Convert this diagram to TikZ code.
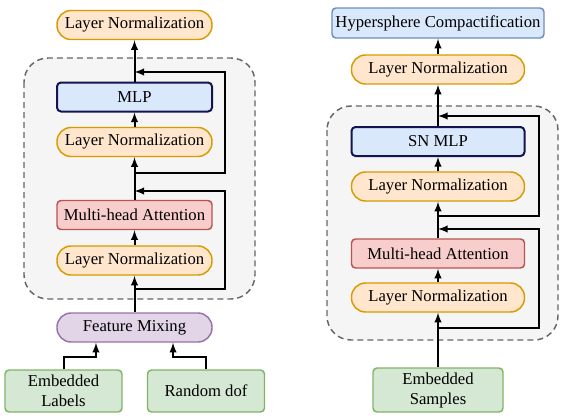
\documentclass[tikz,border=0pt]{standalone}
\usepackage{fontspec}
\setmainfont{Liberation Serif}
\usepackage{tikz}
\usetikzlibrary{calc}
\usetikzlibrary{arrows}
\definecolor{lnfill}{HTML}{FFE6CC}
\definecolor{lndraw}{HTML}{D79B00}
\definecolor{bluefill}{HTML}{DAE8FC}
\definecolor{bluedraw}{HTML}{6C8EBF}
\definecolor{mlpdraw}{HTML}{141452}
\definecolor{redfill}{HTML}{F8CECC}
\definecolor{reddraw}{HTML}{B85450}
\definecolor{purplefill}{HTML}{E1D5E7}
\definecolor{purpledraw}{HTML}{9673A6}
\definecolor{greenfill}{HTML}{D5E8D4}
\definecolor{greendraw}{HTML}{82B366}
\definecolor{boxfill}{HTML}{F5F5F5}
\definecolor{boxdraw}{HTML}{666666}
\tikzstyle{every node}=[font=\fontsize{12.5}{15}\selectfont]
\tikzstyle{pill}=[line width=1.1pt, rounded corners=10.5pt, minimum height=21.75pt, inner sep=0pt]
\tikzstyle{block}=[line width=1.1pt, rounded corners=3pt, minimum height=21.75pt, inner sep=0pt]
\tikzstyle{lnbox}=[pill, draw=lndraw, fill=lnfill]
\tikzstyle{group}=[draw=boxdraw, fill=boxfill, line width=1.1pt, dash pattern=on 4.5pt off 3pt, rounded corners=18pt]

\begin{document}
\begin{tikzpicture}[>=latex, x=0.75pt, y=-0.75pt, line width=1.5pt]
                \useasboundingbox (0, 0) rectangle (581, 419);
                % left branch
                \draw [group] (24, 58) rectangle (255, 299);
                \node [lnbox, minimum width=116.25pt] (lnTopL) at (134.5, 25) {Layer Normalization};
                \node [block, draw=mlpdraw, fill=bluefill, line width=1.5pt, minimum width=116.25pt] (mlp) at (134.5, 97) {MLP};
                \node [lnbox, minimum width=116.25pt] (lnMlpL) at (134.5, 142) {Layer Normalization};
                \node [block, draw=reddraw, fill=redfill, minimum width=116.25pt] (mhaL) at (134.5, 215) {Multi-head Attention};
                \node [lnbox, minimum width=116.25pt] (lnAttL) at (134.5, 260.5) {Layer Normalization};
                \node [pill, draw=purpledraw, fill=purplefill, minimum width=116.25pt] (mix) at (134.5, 327.5) {Feature Mixing};
                \node [block, draw=greendraw, fill=greenfill, minimum width=87.75pt, minimum height=31.5pt, align=center] (labels) at (63.5, 391) {Embedded\\Labels};
                \node [block, draw=greendraw, fill=greenfill, minimum width=87.75pt, minimum height=31.5pt] (dof) at (206, 391) {Random dof};
                \draw [->] (labels.north) -- ++(0, -12) -| ([xshift=-28.9pt]mix.south);
                \draw [->] (dof.north) -- ++(0, -12) -| ([xshift=28.9pt]mix.south);
                \draw [->] (mix.north) -- (lnAttL.south);
                \draw [->] (lnAttL.north) -- (mhaL.south);
                \draw [->] (mhaL.north) -- (lnMlpL.south);
                \draw [->] (lnMlpL.north) -- (mlp.south);
                \draw [->] (mlp.north) -- (lnTopL.south);
                \draw [->] (134.5, 289) -- (225, 289) -- (225, 191) -- (134.5, 191);
                \draw [->] (134.5, 173) -- (225, 173) -- (225, 72) -- (134.5, 72);
                % right branch
                \draw [group] (327, 106) rectangle (558, 340);
                \node [block, draw=bluedraw, fill=bluefill, minimum width=159pt, minimum height=22.5pt] (hyper) at (438, 23) {Hypersphere Compactification};
                \node [lnbox, minimum width=129.75pt] (lnTopR) at (438, 69.5) {Layer Normalization};
                \node [block, draw=mlpdraw, fill=bluefill, line width=1.5pt, minimum width=129.75pt] (snmlp) at (438, 141.5) {SN MLP};
                \node [lnbox, minimum width=129.75pt] (lnMlpR) at (438, 186.5) {Layer Normalization};
                \node [block, draw=reddraw, fill=redfill, minimum width=129.75pt] (mhaR) at (438, 253.5) {Multi-head Attention};
                \node [lnbox, minimum width=129.75pt] (lnAttR) at (438, 297.5) {Layer Normalization};
                \node [block, draw=greendraw, fill=greenfill, minimum width=97.5pt, minimum height=33pt, align=center] (samples) at (438, 390) {Embedded\\Samples};
                \draw [->] (samples.north) -- (lnAttR.south);
                \draw [->] (lnAttR.north) -- (mhaR.south);
                \draw [->] (mhaR.north) -- (lnMlpR.south);
                \draw [->] (lnMlpR.north) -- (snmlp.south);
                \draw [->] (snmlp.north) -- (lnTopR.south);
                \draw [->] (lnTopR.north) -- (hyper.south);
                \draw [->] (438, 328) -- (539, 328) -- (539, 229) -- (438, 229);
                \draw [->] (438, 216) -- (539, 216) -- (539, 116) -- (438, 116);
            \end{tikzpicture}
\end{document}
